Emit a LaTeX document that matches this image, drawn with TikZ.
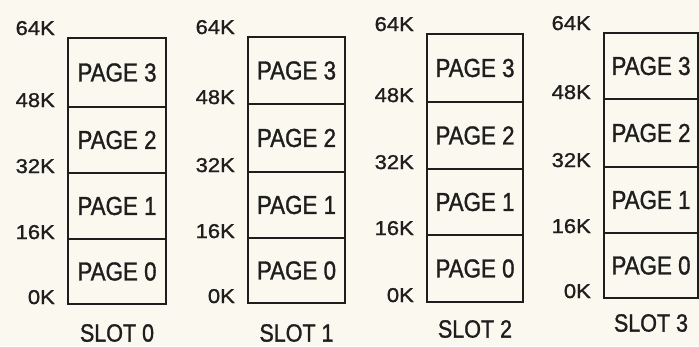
\documentclass[tikz,border=0pt]{standalone}
\usepackage{fontspec}
\setmainfont{Liberation Sans}
\newfontfamily\pagefont[FakeStretch=0.86,FakeBold=1.2]{Liberation Sans}
\newfontfamily\labfont[FakeStretch=1.1,FakeBold=1.2]{Liberation Sans}
\definecolor{paper}{HTML}{FBF8EF}
\definecolor{ink}{HTML}{1E1E1E}
\tikzset{
  cell/.style={draw=ink, line width=1.6pt, inner sep=0pt, text=ink,
    font=\pagefont\fontsize{26}{26}\selectfont},
  addr/.style={anchor=base east, inner sep=0pt, text=ink,
    font=\labfont\fontsize{20}{20}\selectfont},
  slotname/.style={inner sep=0pt, text=ink,
    font=\pagefont\fontsize{25}{25}\selectfont}
}
% #1 id, #2 left, #3 right, #4 top(64K), #5 48K, #6 32K, #7 16K, #8 bottom(0K), #9 slot label y
\newcommand\memslot[9]{%
  \node[cell, minimum width={(#3-#2)*1pt}, minimum height={(#5-#4)*1pt}]
    (s#1p3) at ({(#2+#3)/2},{-(#4+#5)/2}) {PAGE 3};
  \node[cell, minimum width={(#3-#2)*1pt}, minimum height={(#6-#5)*1pt}]
    (s#1p2) at ({(#2+#3)/2},{-(#5+#6)/2}) {PAGE 2};
  \node[cell, minimum width={(#3-#2)*1pt}, minimum height={(#7-#6)*1pt}]
    (s#1p1) at ({(#2+#3)/2},{-(#6+#7)/2}) {PAGE 1};
  \node[cell, minimum width={(#3-#2)*1pt}, minimum height={(#8-#7)*1pt}]
    (s#1p0) at ({(#2+#3)/2},{-(#7+#8)/2}) {PAGE 0};
  \node[addr] (s#1a64) at ({#2-13},{-(#4-3)}) {64K};
  \node[addr] (s#1a48) at ({#2-13},{-#5}) {48K};
  \node[addr] (s#1a32) at ({#2-13},{-#6}) {32K};
  \node[addr] (s#1a16) at ({#2-13},{-#7}) {16K};
  \node[addr] (s#1a0)  at ({#2-13},{-#8}) {0K};
  \node[slotname] (s#1name) at ({(#2+#3)/2},{-#9}) {SLOT #1};
}
\begin{document}
\begin{tikzpicture}[x=1pt,y=1pt]
  \fill[paper] (0,0) rectangle (699,-346);
  \useasboundingbox (0,0) rectangle (699,-346);
  \memslot{0}{68}{166}{38}{107}{173}{239}{304}{333}
  \memslot{1}{248}{345}{37}{104}{172}{238}{303}{333}
  \memslot{2}{427}{523}{34}{102}{169}{235}{302}{329}
  \memslot{3}{604}{698}{33}{99}{167}{233}{298}{323}
\end{tikzpicture}
\end{document}
